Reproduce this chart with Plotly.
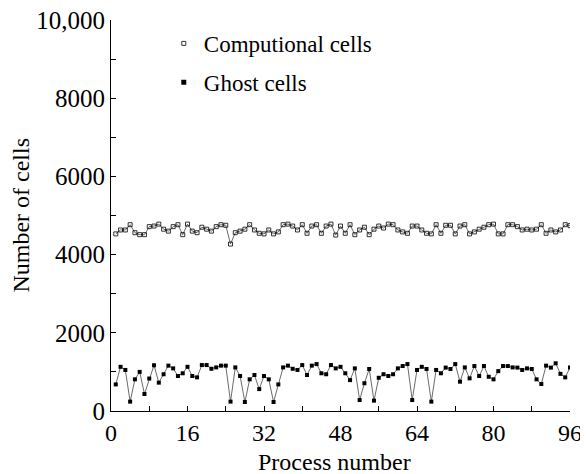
import plotly.graph_objects as go

process = list(range(1, 97))

computational_cells = [
    4530, 4630, 4630, 4765, 4560, 4510, 4510, 4715, 4730, 4780,
    4650, 4600, 4715, 4765, 4510, 4780, 4600, 4560, 4700, 4650,
    4600, 4715, 4765, 4750, 4270, 4560, 4600, 4650, 4765, 4630,
    4545, 4530, 4630, 4530, 4580, 4765, 4780, 4730, 4630, 4765,
    4545, 4730, 4765, 4545, 4730, 4780, 4500, 4730, 4545, 4765,
    4510, 4630, 4700, 4510, 4650, 4730, 4680, 4780, 4765, 4630,
    4580, 4545, 4730, 4730, 4630, 4545, 4530, 4765, 4545, 4750,
    4750, 4530, 4730, 4765, 4530, 4580, 4650, 4700, 4765, 4780,
    4530, 4530, 4765, 4765, 4715, 4630, 4650, 4630, 4650, 4765,
    4545, 4630, 4580, 4630, 4765, 4740,
]

ghost_cells = [
    680, 1130, 1050, 240, 810, 1000, 435, 830, 1170, 725,
    940, 1160, 1090, 895, 965, 1130, 895, 860, 1175, 1175,
    1080, 1115, 1160, 1160, 240, 1115, 895, 230, 810, 920,
    560, 895, 810, 230, 680, 1115, 1160, 1080, 1050, 1175,
    920, 1160, 1200, 965, 940, 1175, 1090, 1130, 965, 790,
    1090, 280, 710, 1075, 265, 850, 940, 895, 940, 1090,
    1150, 1200, 280, 1050, 1130, 1075, 240, 1050, 965, 1110,
    1075, 1200, 750, 1115, 835, 1150, 895, 1150, 875, 810,
    1020, 1150, 1150, 1115, 1110, 1050, 1090, 1075, 810, 690,
    1160, 1110, 1220, 950, 860, 1110,
]

x_tickvals = list(range(0, 97, 8))
x_ticktext = [str(v) if v % 16 == 0 else "" for v in x_tickvals]
y_tickvals = list(range(0, 10001, 1000))
y_ticktext = ["0", "", "2000", "", "4000", "", "6000", "", "8000", "", "10,000"]

FONT = "Liberation Serif"

fig = go.Figure()
fig.add_trace(go.Scatter(
    x=process, y=computational_cells, mode="lines+markers",
    showlegend=False,
    line=dict(color="#444444", width=0.8),
    marker=dict(symbol="square-open", size=4, color="#000000", line=dict(width=0.8)),
))
fig.add_trace(go.Scatter(
    x=process, y=ghost_cells, mode="lines+markers",
    showlegend=False,
    line=dict(color="#444444", width=0.8),
    marker=dict(symbol="square", size=4, color="#000000"),
))
# legend-only entries (marker symbols only, like the reference legend)
fig.add_trace(go.Scatter(
    x=[None], y=[None], mode="markers", name="Computional cells", legendgroup="a",
    marker=dict(symbol="square-open", size=4, color="#000000", line=dict(width=0.8)),
))
fig.add_trace(go.Scatter(
    x=[None], y=[None], mode="markers", name="Ghost cells", legendgroup="b",
    marker=dict(symbol="square", size=5, color="#000000"),
))

fig.update_layout(
    width=588, height=474,
    margin=dict(l=103, r=26, t=12, b=71),
    paper_bgcolor="white", plot_bgcolor="white",
    font=dict(family=FONT, size=24, color="black"),
    showlegend=True,
    legend=dict(
        x=0.115, y=0.995, xanchor="left", yanchor="top",
        bgcolor="rgba(0,0,0,0)", font=dict(size=23, family=FONT),
        traceorder="grouped", tracegroupgap=6, itemwidth=30,
    ),
    xaxis=dict(
        range=[0, 96], tickvals=x_tickvals, ticktext=x_ticktext,
        ticks="inside", ticklen=5, tickcolor="black", tickwidth=1,
        showline=True, linecolor="black", linewidth=1,
        showgrid=False, zeroline=False, automargin=False,
        ticklabeloverflow="allow",
        tickfont=dict(size=24),
    ),
    yaxis=dict(
        range=[0, 10000], tickvals=y_tickvals, ticktext=y_ticktext,
        ticks="inside", ticklen=5, tickcolor="black", tickwidth=1,
        showline=True, linecolor="black", linewidth=1,
        showgrid=False, zeroline=False, automargin=False,
        ticklabeloverflow="allow",
        tickfont=dict(size=25),
    ),
    annotations=[
        dict(text="Process number", xref="paper", yref="paper", x=0.486, y=-0.13,
             xanchor="center", yanchor="middle", showarrow=False,
             font=dict(size=24, family=FONT)),
        dict(text="Number of cells", xref="paper", yref="paper", x=-0.198, y=0.5,
             xanchor="center", yanchor="middle", textangle=-90, showarrow=False,
             font=dict(size=24, family=FONT)),
    ],
)

fig.write_html("out.html")
